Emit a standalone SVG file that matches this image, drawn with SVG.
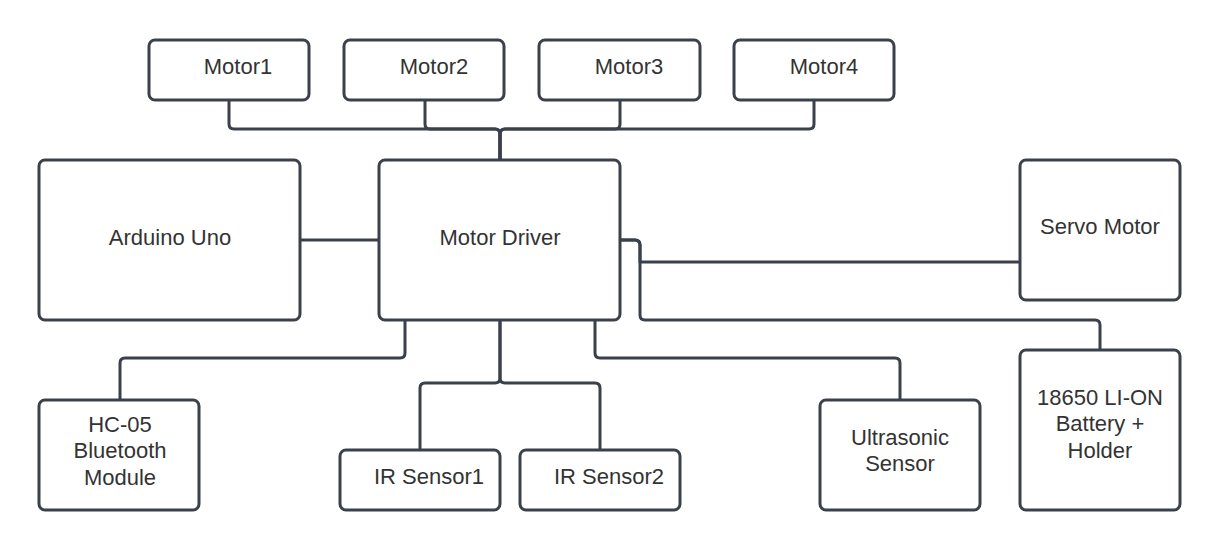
<svg xmlns="http://www.w3.org/2000/svg" width="1220" height="550" viewBox="0 0 1220 550">
<style>
.box{fill:#fff;stroke:#3a414a;stroke-width:3}
.wire{fill:none;stroke:#3a414a;stroke-width:3;stroke-linejoin:round}
text{font-family:"Liberation Sans",Arial,sans-serif;font-size:22px;fill:#333;text-anchor:middle}
</style>
<rect width="1220" height="550" fill="#fff"/>
<g id="connectors">
<path class="wire" d="M229,100 V124 Q229,129 234,129 H495 Q500,129 500,134 V160"/>
<path class="wire" d="M425,100 V124 Q425,129 430,129 H495 Q500,129 500,134 V160"/>
<path class="wire" d="M620,100 V124 Q620,129 615,129 H505 Q500,129 500,134 V160"/>
<path class="wire" d="M814,100 V124 Q814,129 809,129 H505 Q500,129 500,134 V160"/>
<path class="wire" d="M300,240 H379"/>
<path class="wire" d="M620,240 H635 Q640,240 640,245 V262 H1020"/>
<path class="wire" d="M620,240 H635 Q640,240 640,245 V315 Q640,320 645,320 H1095 Q1100,320 1100,325 V350"/>
<path class="wire" d="M405,320 V353 Q405,358 400,358 H125 Q120,358 120,363 V400"/>
<path class="wire" d="M500,320 V378 Q500,383 495,383 H425 Q420,383 420,388 V450"/>
<path class="wire" d="M500,320 V378 Q500,383 505,383 H595 Q600,383 600,388 V450"/>
<path class="wire" d="M595,320 V353 Q595,358 600,358 H895 Q900,358 900,363 V400"/>
</g>
<g id="motor1"><rect class="box" x="149" y="40" width="160" height="60" rx="6"/><text x="238" y="74">Motor1</text></g>
<g id="motor2"><rect class="box" x="344" y="40" width="160" height="60" rx="6"/><text x="434" y="74">Motor2</text></g>
<g id="motor3"><rect class="box" x="539" y="40" width="161" height="60" rx="6"/><text x="629" y="74">Motor3</text></g>
<g id="motor4"><rect class="box" x="734" y="40" width="160" height="60" rx="6"/><text x="824" y="74">Motor4</text></g>
<g id="arduino"><rect class="box" x="39" y="160" width="261" height="160" rx="6"/><text x="170" y="245">Arduino Uno</text></g>
<g id="motor-driver"><rect class="box" x="379" y="160" width="241" height="160" rx="6"/><text x="500" y="245">Motor Driver</text></g>
<g id="servo"><rect class="box" x="1020" y="160" width="160" height="140" rx="6"/><text x="1100" y="234">Servo Motor</text></g>
<g id="hc05"><rect class="box" x="39" y="400" width="160" height="110" rx="6"/><text x="120" y="432">HC-05</text><text x="120" y="458">Bluetooth</text><text x="120" y="485">Module</text></g>
<g id="ir1"><rect class="box" x="340" y="450" width="160" height="60" rx="6"/><text x="429" y="484">IR Sensor1</text></g>
<g id="ir2"><rect class="box" x="520" y="450" width="160" height="60" rx="6"/><text x="609" y="484">IR Sensor2</text></g>
<g id="ultrasonic"><rect class="box" x="820" y="400" width="160" height="110" rx="6"/><text x="900" y="445">Ultrasonic</text><text x="900" y="471">Sensor</text></g>
<g id="battery"><rect class="box" x="1020" y="350" width="160" height="160" rx="6"/><text x="1100" y="405">18650 LI-ON</text><text x="1100" y="431">Battery +</text><text x="1100" y="458">Holder</text></g>
</svg>
